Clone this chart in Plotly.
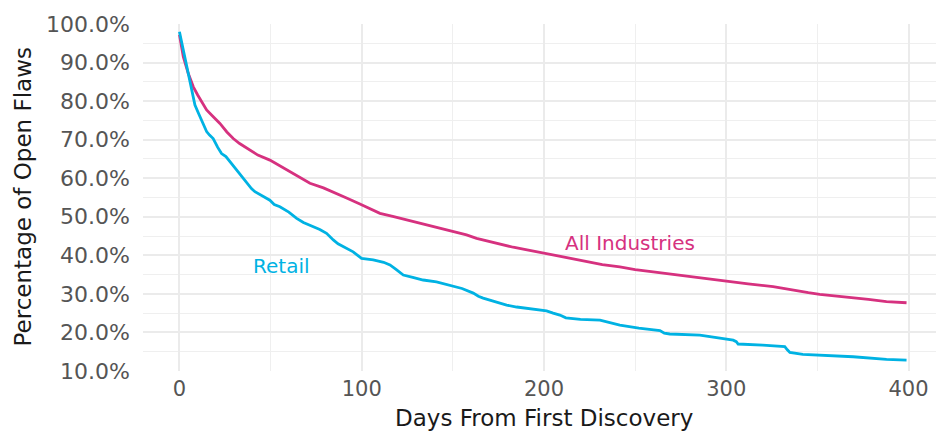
import plotly.graph_objects as go

# All Industries (days, percent open)
all_days = [0, 2.1, 4.8, 7.6, 10, 14.9, 18, 22.2, 26, 29.5, 33, 36.9, 43, 49.6, 55, 58.8, 65, 71.6, 79, 86.2, 92, 99, 104, 110, 117,
            124.6, 132, 139.2, 148, 157.5, 163, 170.3, 177, 183.1, 190, 200.5, 210, 223.4, 232, 241.6, 250, 259.9, 270,
            281.8, 290, 300.2, 312, 325.7, 332, 338.5, 345, 351.3, 360, 369.6, 378, 387.9, 394, 398.9]
all_vals = [97.2, 91.5, 87.2, 83.7, 81.6, 77.7, 76.2, 74.2, 72.0, 70.3, 69.0, 67.8, 66.0, 64.7, 63.2, 62.1, 60.4, 58.7, 57.5, 56.1,
            54.8, 53.3, 52.2, 50.9, 50.1, 49.2, 48.2, 47.3, 46.4, 45.3, 44.4, 43.5, 42.8, 42.1, 41.5, 40.5, 39.6, 38.3,
            37.6, 37.0, 36.3, 35.7, 35.1, 34.3, 33.8, 33.2, 32.6, 31.9, 31.4, 30.7, 30.3, 29.9, 29.5, 29.1, 28.6, 28.0,
            27.8, 27.7]

# Retail (days, percent open)
ret_days = [0, 3, 5.8, 8.5, 10.5, 12.2, 14.9, 16.5, 18.5, 21, 23.1, 25.5, 27.7, 30.5, 33.2, 35, 36.9, 39.5, 41.4, 45, 49.6, 52,
            55.1, 60, 64.3, 68, 73.4, 77, 80.7, 82.5, 84.4, 87, 89.9, 95.3, 99.9, 106.3, 112, 115.5, 119, 122.8, 128,
            133.7, 141, 148.4, 155, 161.2, 164, 166.6, 173, 179.5, 185, 190.5, 201.4, 205, 208.7, 212, 220, 230.7, 236,
            241.6, 252, 263.6, 266, 269, 285.5, 295, 303.8, 305.5, 306.5, 320, 332.1, 333.5, 334.9, 342, 351.3, 369.6,
            387.9, 398.9]
ret_vals = [98.0, 91.5, 84.6, 79.0, 76.8, 75.1, 72.1, 71.2, 70.3, 68.0, 66.4, 65.6, 64.3, 62.6, 61.3, 60.0, 59.1, 57.3, 56.5,
            55.5, 54.3, 53.2, 52.6, 51.2, 49.6, 48.5, 47.4, 46.7, 45.7, 44.8, 44.0, 43.0, 42.2, 40.9, 39.2, 38.8, 38.2,
            37.5, 36.3, 34.9, 34.3, 33.6, 33.1, 32.3, 31.4, 30.2, 29.4, 28.9, 28.0, 27.1, 26.6, 26.3, 25.6, 25.0, 24.5,
            23.8, 23.4, 23.2, 22.6, 21.9, 21.1, 20.5, 19.8, 19.6, 19.3, 18.7, 18.0, 17.6, 17.0, 16.7, 16.3, 15.5, 14.8,
            14.3, 14.1, 13.7, 13.0, 12.8]

y_ticks = [0.1, 0.2, 0.3, 0.4, 0.5, 0.6, 0.7, 0.8, 0.9, 1.0]
y_minor = [0.15, 0.25, 0.35, 0.45, 0.55, 0.65, 0.75, 0.85, 0.95]
x_ticks = [0, 100, 200, 300, 400]
x_minor = [50, 150, 250, 350]

PINK = "#D6317F"
CYAN = "#00B2E3"
FONT = "DejaVu Sans"
TICK_COLOR = "#555555"
TITLE_COLOR = "#1a1a1a"

fig = go.Figure()
fig.add_trace(go.Scatter(x=all_days, y=[v / 100 for v in all_vals], mode="lines",
                         line=dict(color=PINK, width=2.8), name="All Industries"))
fig.add_trace(go.Scatter(x=ret_days, y=[v / 100 for v in ret_vals], mode="lines",
                         line=dict(color=CYAN, width=2.8), name="Retail"))

fig.add_annotation(x=247, y=0.432, text="All Industries", showarrow=False,
                   font=dict(family=FONT, size=20, color=PINK))
fig.add_annotation(x=56, y=0.372, text="Retail", showarrow=False,
                   font=dict(family=FONT, size=20, color=CYAN))

# axis titles
fig.add_annotation(x=0.5, y=0, xref="paper", yref="paper", yanchor="bottom", yshift=-62,
                   text="Days From First Discovery", showarrow=False,
                   font=dict(family=FONT, size=23, color=TITLE_COLOR))
fig.add_annotation(x=0, y=0.5, xref="paper", yref="paper", xanchor="center", xshift=-121,
                   text="Percentage of Open Flaws", textangle=-90, showarrow=False,
                   font=dict(family=FONT, size=23, color=TITLE_COLOR))

# page body has an 8px default margin, so margins are offset to compensate
fig.update_layout(
    width=944, height=435,
    margin=dict(l=135, r=7, t=16, b=72, autoexpand=False),
    paper_bgcolor="white", plot_bgcolor="white",
    showlegend=False,
    font=dict(family=FONT, size=20, color=TICK_COLOR),
)
fig.update_xaxes(range=[-20, 420], tickvals=x_ticks, ticktext=[str(t) for t in x_ticks],
                 showgrid=True, gridcolor="#ebebeb", gridwidth=2.2, zeroline=False, showline=False,
                 ticks="", tickfont=dict(family=FONT, size=21, color=TICK_COLOR), automargin=False,
                 ticklabelstandoff=3,
                 minor=dict(tickvals=x_minor, showgrid=True, gridcolor="#efefef", gridwidth=1.1))
fig.update_yaxes(range=[0.1, 1.0], tickvals=y_ticks, tickformat=".1%",
                 showgrid=True, gridcolor="#ebebeb", gridwidth=2.2, zeroline=False, showline=False,
                 ticks="", tickfont=dict(family=FONT, size=22, color=TICK_COLOR), automargin=False,
                 ticklabelstandoff=12,
                 minor=dict(tickvals=y_minor, showgrid=True, gridcolor="#efefef", gridwidth=1.1))

fig.write_html("out.html")
